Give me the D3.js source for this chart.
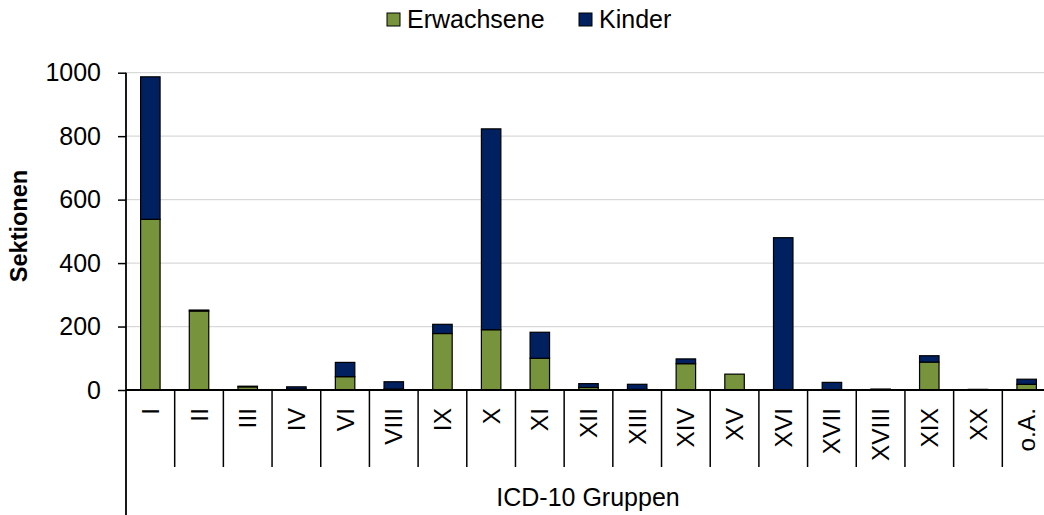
<!DOCTYPE html>
<html>
<head>
<meta charset="utf-8">
<script src="https://cdn.jsdelivr.net/npm/d3@7"></script>
<style>
  body { margin: 0; background: #fff; overflow: hidden; }
  svg { font-family: "Liberation Sans", Arial, sans-serif; display: block; }
</style>
</head>
<body>
<svg width="1044" height="515"></svg>
<script>
var groups = ["I","II","III","IV","VI","VIII","IX","X","XI","XII","XIII","XIV","XV","XVI","XVII","XVIII","XIX","XX","o.A."];
var erwachsene = [538, 249, 10, 3, 42, 3, 178, 190, 100, 8, 2, 83, 50, 0, 0, 1, 88, 0, 18];
var kinder     = [449, 3, 2, 7, 45, 23, 29, 633, 82, 12, 16, 15, 0, 480, 24, 2, 20, 2, 16];
var yTicks = [0, 200, 400, 600, 800, 1000];
var seriesNames = ["Erwachsene", "Kinder"];
var colors = {Erwachsene: "#77933c", Kinder: "#002060"};

var svg = d3.select("svg");
var plotLeft = 126, plotRight = 1051, plotTop = 72.7, base = 390;
var fs = 25;

var rows = groups.map(function(g, i){ return {g: g, Erwachsene: erwachsene[i], Kinder: kinder[i]}; });
var stack = d3.stack().keys(seriesNames)(rows);

var x = d3.scaleBand().domain(groups).range([plotLeft, plotRight]).paddingInner(0.6).paddingOuter(0.3);
var xCat = d3.scaleBand().domain(groups).range([plotLeft, plotRight]).padding(0);
var y = d3.scaleLinear().domain([0, 1000]).range([base, plotTop]);

// gridlines
svg.append("g")
  .selectAll("line").data(yTicks.filter(function(d){ return d > 0; })).enter()
  .append("line")
  .attr("x1", plotLeft).attr("x2", 1044)
  .attr("y1", function(d){ return y(d); }).attr("y2", function(d){ return y(d); })
  .attr("stroke", "#d9d9d9").attr("stroke-width", 1.3);

// bars
svg.append("g").selectAll("g").data(stack).enter()
  .append("g").attr("fill", function(d){ return colors[d.key]; })
  .selectAll("rect").data(function(d){ return d; }).enter()
  .append("rect")
  .attr("x", function(d){ return x(d.data.g); })
  .attr("width", x.bandwidth())
  .attr("y", function(d){ return y(d[1]); })
  .attr("height", function(d){ return y(d[0]) - y(d[1]); })
  .attr("stroke", "#000").attr("stroke-width", 1.2);

// y axis
var yAxis = svg.append("g")
  .attr("transform", "translate(" + plotLeft + ",0)")
  .call(d3.axisLeft(y).tickValues(yTicks).tickFormat(d3.format("d")).tickSize(8).tickPadding(17));
yAxis.select(".domain").remove();
yAxis.selectAll("line").attr("stroke", "#000").attr("stroke-width", 1.5);
yAxis.selectAll("text").attr("font-size", fs).attr("fill", "#000")
  .attr("font-family", "Liberation Sans, Arial, sans-serif");

svg.append("line").attr("x1", plotLeft).attr("x2", plotLeft).attr("y1", plotTop).attr("y2", 515)
  .attr("stroke", "#000").attr("stroke-width", 1.8);

// x baseline and category dividers
svg.append("line").attr("x1", plotLeft).attr("x2", 1044).attr("y1", base).attr("y2", base)
  .attr("stroke", "#000").attr("stroke-width", 1.8);
svg.append("g").selectAll("line").data(groups.slice(1)).enter()
  .append("line")
  .attr("x1", function(d){ return xCat(d); }).attr("x2", function(d){ return xCat(d); })
  .attr("y1", base).attr("y2", 467)
  .attr("stroke", "#000").attr("stroke-width", 1.5);

svg.append("g").selectAll("text").data(groups).enter()
  .append("text")
  .attr("transform", function(d){ return "translate(" + (x(d) + x.bandwidth() / 2) + ",408) rotate(-90)"; })
  .attr("text-anchor", "end")
  .attr("dy", "0.35em")
  .attr("font-size", 24.5)
  .text(function(d){ return d; });

// axis titles
svg.append("text").attr("x", 588).attr("y", 506).attr("text-anchor", "middle")
  .attr("font-size", fs).text("ICD-10 Gruppen");
svg.append("text").attr("transform", "translate(27,226) rotate(-90)")
  .attr("text-anchor", "middle").attr("font-size", 23.5).attr("font-weight", "bold")
  .text("Sektionen");

// legend
var legendX = [387, 579];
var lg = svg.append("g").selectAll("g").data(seriesNames).enter()
  .append("g").attr("transform", function(d, i){ return "translate(" + legendX[i] + ",13)"; });
lg.append("rect").attr("width", 13).attr("height", 13)
  .attr("fill", function(d){ return colors[d]; }).attr("stroke", "#000").attr("stroke-width", 1);
lg.append("text").attr("x", 20).attr("y", 15).attr("font-size", fs).text(function(d){ return d; });
</script>
</body>
</html>
